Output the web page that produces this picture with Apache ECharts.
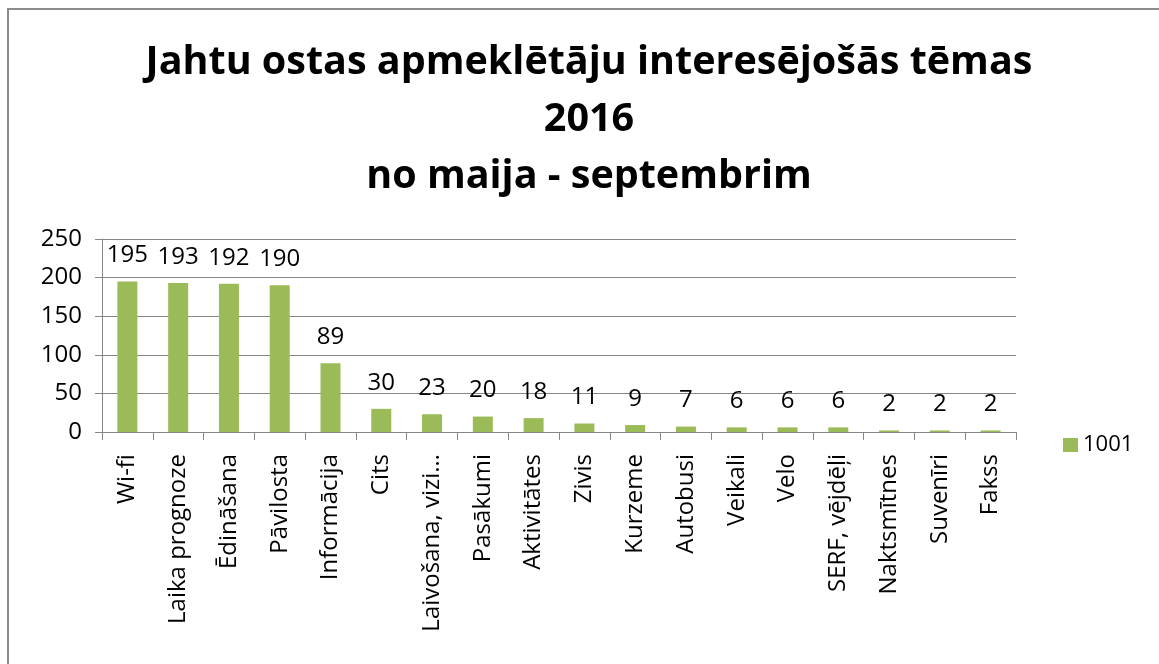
<!DOCTYPE html>
<html>
<head>
<meta charset="utf-8">
<script src="https://cdn.jsdelivr.net/npm/echarts@6/dist/echarts.min.js"></script>
<style>
  html, body { margin: 0; padding: 0; background: #fff; }
  #frame { position: absolute; left: 7px; top: 8px; width: 1160px; height: 670px;
           border-left: 2px solid #8c8c8c; border-top: 2px solid #8c8c8c; }
  #chart { position: absolute; left: 0; top: 0; width: 1159px; height: 664px; }
</style>
</head>
<body>
<div id="frame"></div>
<div id="chart"></div>
<script>
'use strict';

var categories = ['Wi-fi', 'Laika prognoze', 'Ēdināšana', 'Pāvilosta', 'Informācija', 'Cits',
  'Laivošana, vizi…', 'Pasākumi', 'Aktivitātes', 'Zivis', 'Kurzeme', 'Autobusi', 'Veikali',
  'Velo', 'SERF, vējdēļi', 'Naktsmītnes', 'Suvenīri', 'Fakss'];
var values = [195, 193, 192, 190, 89, 30, 23, 20, 18, 11, 9, 7, 6, 6, 6, 2, 2, 2];
var seriesName = '1001';
var yTicks = { min: 0, max: 250, interval: 50 };

var font = '"Open Sans", sans-serif';
var chart = echarts.init(document.getElementById('chart'));
chart.setOption({
  animation: false,
  title: {
    text: 'Jahtu ostas apmeklētāju interesējošās tēmas\n2016\nno maija - septembrim',
    left: 584, top: 29, textAlign: 'center',
    textStyle: { fontFamily: font, fontWeight: 'bold', fontSize: 39.5, lineHeight: 57, color: '#000' }
  },
  legend: {
    data: [seriesName], left: 1058, top: 429, orient: 'vertical',
    itemWidth: 15, itemHeight: 14, itemGap: 6,
    icon: 'rect',
    textStyle: { fontFamily: font, fontSize: 22, color: '#000' }
  },
  grid: { left: 102, right: 143, top: 239, bottom: 232, containLabel: false },
  xAxis: {
    type: 'category', data: categories,
    axisLine: { lineStyle: { color: '#868686', width: 1 } },
    axisTick: { show: true, interval: 0, length: 8, lineStyle: { color: '#868686' } },
    axisLabel: { interval: 0, rotate: 90, margin: 22, fontFamily: font, fontSize: 24, color: '#000' }
  },
  yAxis: {
    type: 'value', min: yTicks.min, max: yTicks.max, interval: yTicks.interval,
    axisLine: { show: true, lineStyle: { color: '#868686' } },
    axisTick: { show: true, length: 7, lineStyle: { color: '#868686' } },
    splitLine: { lineStyle: { color: '#868686', width: 1 } },
    axisLabel: { margin: 20, fontFamily: font, fontSize: 24, color: '#000' }
  },
  series: [{
    name: seriesName, type: 'bar', data: values, barWidth: 20,
    itemStyle: { color: '#9bbb59' },
    label: { show: true, position: 'top', distance: 14, fontFamily: font, fontSize: 24, color: '#000' }
  }]
});
</script>
</body>
</html>
